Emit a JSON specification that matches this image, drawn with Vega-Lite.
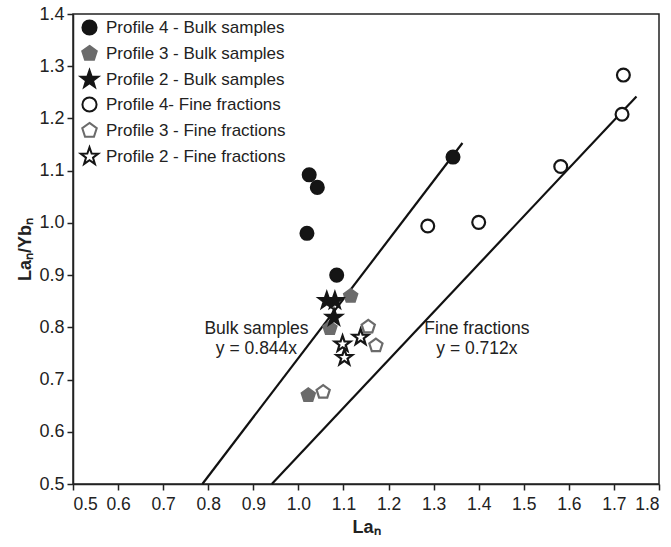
{
  "$schema": "https://vega.github.io/schema/vega-lite/v6.json",
  "width": 586,
  "height": 470,
  "autosize": "none",
  "padding": {"left": 73, "top": 14, "right": 12, "bottom": 63},
  "background": "white",
  "config": {
    "font": "Liberation Sans",
    "view": {"stroke": "#222", "strokeWidth": 1.5},
    "axis": {
      "grid": false,
      "domainColor": "#222", "domainWidth": 1.5,
      "tickColor": "#222", "tickWidth": 1.5, "tickSize": 6,
      "labelFont": "Liberation Sans", "labelFontSize": 17.5, "labelColor": "#222", "labelPadding": 3,
      "titleFont": "Liberation Sans", "titleFontSize": 18, "titleFontWeight": "bold", "titleColor": "#222"
    },
    "legend": {
      "labelFont": "Liberation Sans", "labelFontSize": 17, "labelColor": "#222", "labelLimit": 400,
      "symbolSize": 200, "symbolStrokeWidth": 2, "rowPadding": 2, "labelOffset": 8,
      "padding": 0
    }
  },
  "layer": [
    {
      "data": {"values": [
        {"line": "Bulk", "x": 0.787, "y": 0.5, "x2": 1.364, "y2": 1.153},
        {"line": "Fine", "x": 0.941, "y": 0.5, "x2": 1.75, "y2": 1.242}
      ]},
      "mark": {"type": "rule", "strokeWidth": 2.2, "color": "#111"},
      "encoding": {
        "x": {"field": "x", "type": "quantitative",
              "scale": {"domain": [0.5, 1.8], "nice": false, "zero": false},
              "axis": {"values": [0.5,0.6,0.7,0.8,0.9,1.0,1.1,1.2,1.3,1.4,1.5,1.6,1.7,1.8], "format": ".1f", "title": "Laₙ", "titlePadding": 6, "labelPadding": 5, "labelFontSize": 17.5, "titleFontSize": 18}},
        "y": {"field": "y", "type": "quantitative",
              "scale": {"domain": [0.5, 1.4], "nice": false, "zero": false},
              "axis": {"values": [0.5,0.6,0.7,0.8,0.9,1.0,1.1,1.2,1.3,1.4], "format": ".1f", "title": "Laₙ/Ybₙ", "titlePadding": 4, "labelPadding": 3, "labelFontSize": 18, "titleFontSize": 18}},
        "x2": {"field": "x2"},
        "y2": {"field": "y2"}
      }
    },
    {
      "data": {"values": [
        {"series": "Profile 4 - Bulk samples", "x": 1.024, "y": 1.092},
        {"series": "Profile 4 - Bulk samples", "x": 1.042, "y": 1.068},
        {"series": "Profile 4 - Bulk samples", "x": 1.019, "y": 0.980},
        {"series": "Profile 4 - Bulk samples", "x": 1.085, "y": 0.900},
        {"series": "Profile 4 - Bulk samples", "x": 1.343, "y": 1.126},
        {"series": "Profile 3 - Bulk samples", "x": 1.116, "y": 0.860},
        {"series": "Profile 3 - Bulk samples", "x": 1.070, "y": 0.798},
        {"series": "Profile 3 - Bulk samples", "x": 1.022, "y": 0.670},
        {"series": "Profile 2 - Bulk samples", "x": 1.063, "y": 0.851},
        {"series": "Profile 2 - Bulk samples", "x": 1.081, "y": 0.851},
        {"series": "Profile 2 - Bulk samples", "x": 1.079, "y": 0.819},
        {"series": "Profile 4- Fine fractions", "x": 1.287, "y": 0.994},
        {"series": "Profile 4- Fine fractions", "x": 1.400, "y": 1.001},
        {"series": "Profile 4- Fine fractions", "x": 1.582, "y": 1.108},
        {"series": "Profile 4- Fine fractions", "x": 1.718, "y": 1.208},
        {"series": "Profile 4- Fine fractions", "x": 1.721, "y": 1.283},
        {"series": "Profile 3 - Fine fractions", "x": 1.155, "y": 0.801},
        {"series": "Profile 3 - Fine fractions", "x": 1.172, "y": 0.765},
        {"series": "Profile 3 - Fine fractions", "x": 1.055, "y": 0.676},
        {"series": "Profile 2 - Fine fractions", "x": 1.138, "y": 0.781},
        {"series": "Profile 2 - Fine fractions", "x": 1.098, "y": 0.768},
        {"series": "Profile 2 - Fine fractions", "x": 1.102, "y": 0.742}
      ]},
      "mark": {"type": "point", "size": 165, "strokeWidth": 2.2, "opacity": 1, "fillOpacity": 1, "strokeOpacity": 1},
      "encoding": {
        "x": {"field": "x", "type": "quantitative"},
        "y": {"field": "y", "type": "quantitative"},
        "shape": {"field": "series", "type": "nominal",
          "scale": {
            "domain": ["Profile 4 - Bulk samples","Profile 3 - Bulk samples","Profile 2 - Bulk samples","Profile 4- Fine fractions","Profile 3 - Fine fractions","Profile 2 - Fine fractions"],
            "range": [
              "circle",
              "M0,-1.08L1.027,-0.334L0.635,0.874L-0.635,0.874L-1.027,-0.334Z",
              "M0,-1.3L0.306,-0.421L1.236,-0.402L0.494,0.161L0.764,1.052L0,0.52L-0.764,1.052L-0.494,0.161L-1.236,-0.402L-0.306,-0.421Z",
              "circle",
              "M0,-1.08L1.027,-0.334L0.635,0.874L-0.635,0.874L-1.027,-0.334Z",
              "M0,-1.3L0.306,-0.421L1.236,-0.402L0.494,0.161L0.764,1.052L0,0.52L-0.764,1.052L-0.494,0.161L-1.236,-0.402L-0.306,-0.421Z"
            ]},
          "legend": {"title": null, "orient": "none", "legendX": 8, "legendY": 5}},
        "fill": {"field": "series", "type": "nominal",
          "scale": {
            "domain": ["Profile 4 - Bulk samples","Profile 3 - Bulk samples","Profile 2 - Bulk samples","Profile 4- Fine fractions","Profile 3 - Fine fractions","Profile 2 - Fine fractions"],
            "range": ["#151515", "#6b6b6b", "#151515", "#ffffff", "#ffffff", "#ffffff"]},
          "legend": {"title": null, "orient": "none", "legendX": 8, "legendY": 5}},
        "stroke": {"field": "series", "type": "nominal",
          "scale": {
            "domain": ["Profile 4 - Bulk samples","Profile 3 - Bulk samples","Profile 2 - Bulk samples","Profile 4- Fine fractions","Profile 3 - Fine fractions","Profile 2 - Fine fractions"],
            "range": ["#151515", "#6b6b6b", "#151515", "#151515", "#6b6b6b", "#151515"]},
          "legend": {"title": null, "orient": "none", "legendX": 8, "legendY": 5}}
      }
    },
    {
      "data": {"values": [
        {"label": "Bulk samples", "x": 0.907, "y": 0.797},
        {"label": "y = 0.844x", "x": 0.907, "y": 0.758},
        {"label": "Fine fractions", "x": 1.396, "y": 0.797},
        {"label": "y = 0.712x", "x": 1.396, "y": 0.758}
      ]},
      "mark": {"type": "text", "fontSize": 17.5, "color": "#222", "align": "center", "baseline": "middle", "font": "Liberation Sans"},
      "encoding": {
        "x": {"field": "x", "type": "quantitative"},
        "y": {"field": "y", "type": "quantitative"},
        "text": {"field": "label", "type": "nominal"}
      }
    }
  ]
}
